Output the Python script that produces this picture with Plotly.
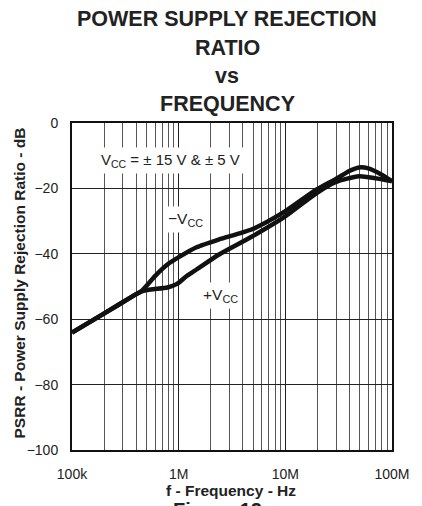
import plotly.graph_objects as go

# ---- data ----
neg_freq = [1e5, 1.92e5, 3.92e5, 4.45e5, 5.97e5, 7.84e5, 1.03e6, 1.47e6, 2.39e6,
            4.88e6, 9.75e6, 1.95e7, 2.96e7, 3.98e7, 4.9e7, 6.0e7, 8.0e7, 1e8]
neg_db = [-64.1, -58.6, -52.5, -51.5, -46.9, -43.3, -40.8, -38.0, -35.6,
          -32.5, -27.2, -20.4, -17.2, -14.7, -13.6, -13.9, -15.8, -17.8]

pos_freq = [1e5, 1.92e5, 3.92e5, 4.45e5, 5.48e5, 7.84e5, 9.67e5, 1.19e6, 1.47e6,
            2.39e6, 4.88e6, 9.75e6, 1.95e7, 2.96e7, 4.9e7, 8.0e7, 1e8]
pos_db = [-64.1, -58.6, -52.5, -51.5, -50.9, -50.3, -49.2, -46.8, -44.8,
          -40.2, -34.7, -28.8, -21.5, -18.1, -16.3, -17.2, -17.8]

x_tick_vals = [1e5, 1e6, 1e7, 1e8]
x_tick_text = ["100k", "1M", "10M", "100M"]
y_tick_vals = [0, -20, -40, -60, -80, -100]

title_lines = ["POWER SUPPLY REJECTION", "RATIO", "vs", "FREQUENCY"]
title_y_px = [18.5, 47.5, 76, 104.5]

# page body has an 8px default margin; size the figure to fill the rest
OFF = 8
W, H = 422 - OFF, 506 - OFF
L, R, T, B = 72 - OFF, 21, 123 - OFF, 56
PW, PH = W - L - R, H - T - B


def px_to_paper_x(px):
    return (px - OFF - L) / PW


def px_to_paper_y(py):
    return (H - B - (py - OFF)) / PH


fig = go.Figure()
fig.add_trace(go.Scatter(x=neg_freq, y=neg_db, mode="lines", name="-VCC",
                         line=dict(color="#111", width=4.5, shape="spline", smoothing=0.6)))
fig.add_trace(go.Scatter(x=pos_freq, y=pos_db, mode="lines", name="+VCC",
                         line=dict(color="#111", width=4.5, shape="spline", smoothing=0.6)))

font_main = "Liberation Sans, Arial, sans-serif"

annotations = []
for txt, ypx in zip(title_lines, title_y_px):
    annotations.append(dict(text=f"<b>{txt}</b>", xref="paper", yref="paper",
                            x=px_to_paper_x(231.5), y=px_to_paper_y(ypx),
                            xanchor="center", yanchor="middle", showarrow=False,
                            font=dict(size=21.5, color="#222", family=font_main)))

# in-plot labels
annotations.append(dict(text="V<sub>CC</sub> = ± 15 V & ± 5 V", x=5.925, y=-11.5,
                        xref="x", yref="y", showarrow=False, bgcolor="white",
                        borderpad=3, font=dict(size=15, color="#222", family=font_main)))
annotations.append(dict(text="−V<sub>CC</sub>", x=6.065, y=-29.4,
                        xref="x", yref="y", showarrow=False, bgcolor="white",
                        borderpad=3, font=dict(size=15.5, color="#222", family=font_main)))
annotations.append(dict(text="+V<sub>CC</sub>", x=6.395, y=-52.6,
                        xref="x", yref="y", showarrow=False, bgcolor="white",
                        borderpad=3, font=dict(size=15.5, color="#222", family=font_main)))

# axis titles
annotations.append(dict(text="<b>f - Frequency - Hz</b>", xref="paper", yref="paper",
                        x=px_to_paper_x(235), y=px_to_paper_y(490), xanchor="center",
                        yanchor="middle", showarrow=False,
                        font=dict(size=15.5, color="#222", family=font_main)))
annotations.append(dict(text="<b>PSRR - Power Supply Rejection Ratio - dB</b>",
                        xref="paper", yref="paper", x=px_to_paper_x(18),
                        y=px_to_paper_y(283), xanchor="center", yanchor="middle",
                        textangle=-90, showarrow=False,
                        font=dict(size=15.5, color="#222", family=font_main)))
annotations.append(dict(text="<b>Figure 12</b>", xref="paper", yref="paper",
                        x=px_to_paper_x(222), y=px_to_paper_y(497), xanchor="center",
                        yanchor="top", showarrow=False,
                        font=dict(size=20, color="#222", family=font_main)))

fig.update_layout(
    width=W, height=H,
    margin=dict(l=L, r=R, t=T, b=B),
    paper_bgcolor="white", plot_bgcolor="white",
    showlegend=False,
    font=dict(family=font_main, color="#222", size=14),
    annotations=annotations,
)
fig.update_xaxes(type="log", range=[5, 8], tickvals=x_tick_vals, ticktext=x_tick_text,
                 showgrid=True, gridcolor="#222", gridwidth=1,
                 minor=dict(dtick="D1", showgrid=True, gridcolor="#555", gridwidth=1),
                 showline=True, linecolor="#111", linewidth=2, mirror=True,
                 ticks="", ticklabelstandoff=10, zeroline=False,
                 tickfont=dict(size=14, family=font_main, color="#222"))
fig.update_yaxes(range=[-100, 0], tickvals=y_tick_vals, showgrid=True, gridcolor="#222",
                 gridwidth=1, showline=True, linecolor="#111", linewidth=2, mirror=True,
                 ticks="", ticklabelstandoff=9, zeroline=False,
                 tickfont=dict(size=14, family=font_main, color="#222"))

fig.write_html("out.html")
